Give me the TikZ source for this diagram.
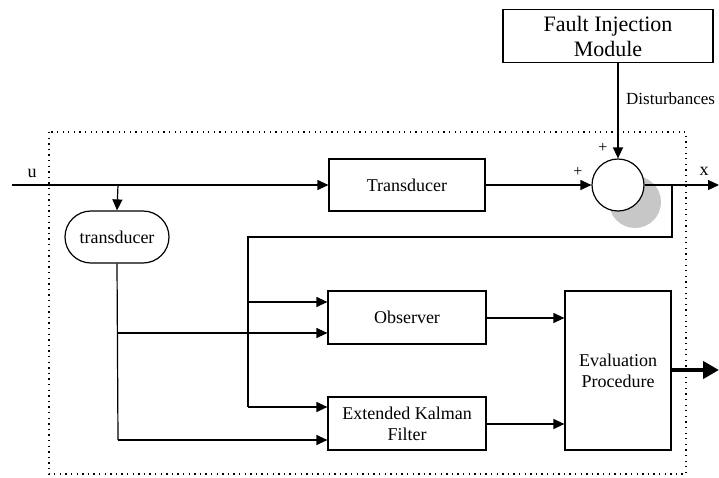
\documentclass[tikz,border=0pt]{standalone}
\usepackage{fontspec}
\setmainfont{Liberation Serif}
\usetikzlibrary{arrows.meta,shapes.misc}
\begin{document}
\begin{tikzpicture}[x=1pt,y=-1pt,
  box/.style={draw,line width=1.2pt,inner sep=1pt,align=center,font=\fontsize{18}{21}\selectfont},
  conn/.style={line width=1.2pt},
  arr/.style={line width=1.2pt,-{Triangle[length=11pt,width=10pt]}},
  bigarr/.style={line width=4pt,-{Triangle[length=16pt,width=17pt]}},
  lbl/.style={inner sep=0pt,font=\fontsize{18}{21}\selectfont}]
\useasboundingbox (0,0) rectangle (719,477);
% dotted frame
\draw[line width=1.3pt,dash pattern=on 1.3pt off 4.3pt] (49,132) rectangle (686,474);
% nodes
\node[box,minimum width=210pt,minimum height=53pt,inner sep=0pt,font=\fontsize{22}{25}\selectfont] (fim) at (608,36) {Fault Injection\\Module};
\node[box,minimum width=156pt,minimum height=52pt] (tr) at (407,185) {Transducer};
\node[draw=none,fill=black!22,circle,minimum size=52pt] (sh) at (635,202) {};
\node[draw,line width=1.2pt,fill=white,circle,minimum size=52pt,inner sep=0pt] (sum) at (618,185) {};
\node[box,rounded rectangle,minimum width=106pt,minimum height=52pt] (tl) at (117,237) {transducer};
\node[box,minimum width=158pt,minimum height=53pt] (obs) at (407,317.5) {Observer};
\node[box,minimum width=158pt,minimum height=53pt] (ekf) at (407,423.5) {Extended Kalman\\Filter};
\node[box,minimum width=106pt,minimum height=159pt] (ev) at (618,370.5) {Evaluation\\Procedure};
% free-end coordinates
\coordinate (uin) at (12,185);
\coordinate (ubr) at (118,185);
\coordinate (xout) at (719,185);
\coordinate (fbtap) at (672,185);
\coordinate (evout) at (719,370);
% labels
\node[lbl,anchor=base] (ul) at (32,177) {u};
\node[lbl,anchor=base] (xl) at (704,175) {x};
\node[lbl,font=\fontsize{16}{19}\selectfont] (p1) at (603,148) {+};
\node[lbl,font=\fontsize{16}{19}\selectfont] (p2) at (578,172) {+};
\node[lbl,anchor=base west,font=\fontsize{17}{20}\selectfont] (dist) at (626,104) {Disturbances};
% connectors
\draw[arr] (fim.south -| sum.north) -- (sum.north);
\draw[arr] (uin) -- (tr.west);
\draw[arr] (ubr) -- (tl.north);
\draw[arr] (tr.east) -- (sum.west);
\draw[arr] (sum.east) -- (xout);
\draw[conn] (fbtap) -- (672,237) -- (248,237) -- (248,407);
\draw[arr] (248,302) -- (obs.west |- 0,302);
\draw[arr] (248,407) -- (ekf.west |- 0,407);
\draw[conn] (tl.south) -- (118,440);
\draw[arr] (118,333) -- (obs.west |- 0,333);
\draw[arr] (118,440) -- (ekf.west |- 0,440);
\draw[arr] (obs.east |- 0,318) -- (ev.west |- 0,318);
\draw[arr] (ekf.east |- 0,424) -- (ev.west |- 0,424);
\draw[bigarr] (ev.east |- evout) -- (evout);
\end{tikzpicture}
\end{document}
